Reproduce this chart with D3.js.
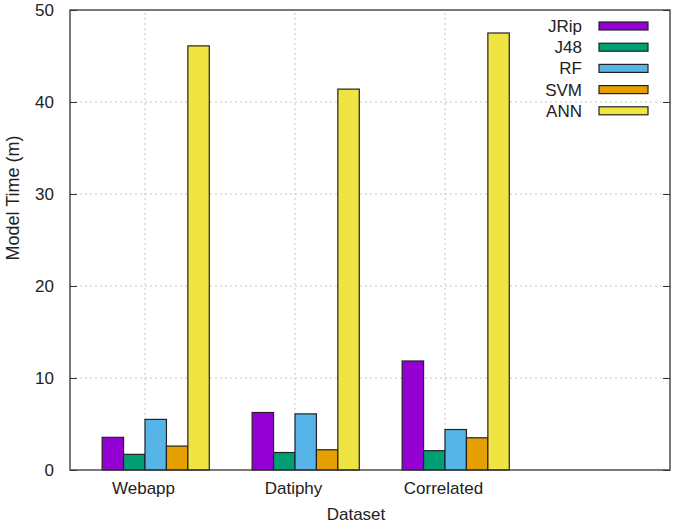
<!DOCTYPE html>
<html>
<head>
<meta charset="utf-8">
<script src="https://cdn.jsdelivr.net/npm/d3@7"></script>
<style>
  body { margin: 0; background: #fff; }
  text { font-family: "Liberation Sans", Arial, sans-serif; fill: #222; }
</style>
</head>
<body>
<div id="chart-area"></div>
<script>
var categories = ["Webapp", "Datiphy", "Correlated"];
var seriesNames = ["JRip", "J48", "RF", "SVM", "ANN"];
var seriesColors = ["#9400d3", "#009e73", "#56b4e9", "#e69f00", "#f0e442"];
var jripValues = [3.55, 6.25, 11.85];
var j48Values = [1.7, 1.9, 2.1];
var rfValues = [5.5, 6.1, 4.4];
var svmValues = [2.6, 2.2, 3.5];
var annValues = [46.1, 41.4, 47.5];
var yTicks = [0, 10, 20, 30, 40, 50];

var allSeries = [jripValues, j48Values, rfValues, svmValues, annValues];

var width = 677;
var height = 527;
var margin = {top: 10, right: 7, bottom: 57, left: 70};
var fontSize = "17px";

var svg = d3.select("#chart-area")
    .append("svg")
        .attr("width", width)
        .attr("height", height);

var x = d3.scaleLinear().domain([-0.5, 3.5]).range([margin.left, width - margin.right]);
var y = d3.scaleLinear().domain([0, 50]).range([height - margin.bottom, margin.top]);

var gap = 2;
var barW = 1 / (seriesNames.length + gap);

// grid
var grid = svg.append("g");
grid.selectAll("line.hg").data(yTicks.slice(1, -1)).enter().append("line")
    .attr("x1", x(-0.5)).attr("x2", x(3.5))
    .attr("y1", (d) => y(d)).attr("y2", (d) => y(d))
    .attr("stroke", "#c4c4c4").attr("stroke-dasharray", "2,3");
grid.selectAll("line.vg").data([0, 1, 2]).enter().append("line")
    .attr("x1", (d) => x(d)).attr("x2", (d) => x(d))
    .attr("y1", y(0)).attr("y2", y(50))
    .attr("stroke", "#c4c4c4").attr("stroke-dasharray", "2,3");

// bars
var rows = [];
allSeries.forEach((vals, j) => {
    vals.forEach((v, i) => {
        rows.push({i: i, j: j, v: v});
    });
});

svg.append("g").selectAll("rect").data(rows).enter().append("rect")
    .attr("x", (d) => x(d.i + (d.j - 2) * barW))
    .attr("y", (d) => y(d.v))
    .attr("width", (d) => x(d.i + (d.j - 1) * barW) - x(d.i + (d.j - 2) * barW))
    .attr("height", (d) => y(0) - y(d.v))
    .attr("fill", (d) => seriesColors[d.j])
    .attr("stroke", "#222")
    .attr("stroke-width", 1.2);

// axes
var yAxisCall = d3.axisLeft(y).tickValues(yTicks).tickSize(-7).tickPadding(16);
var yAxisGroup = svg.append("g")
    .attr("transform", "translate(" + margin.left + ", 0)")
    .call(yAxisCall);
yAxisGroup.select(".domain").remove();
yAxisGroup.selectAll("line").attr("stroke", "#333");
yAxisGroup.selectAll("text").attr("font-size", fontSize).attr("fill", "#222")
    .style("font-family", "Liberation Sans, Arial, sans-serif");

var yRight = svg.append("g")
    .attr("transform", "translate(" + (width - margin.right) + ", 0)")
    .call(d3.axisRight(y).tickValues(yTicks).tickSize(-7).tickFormat(""));
yRight.select(".domain").remove();
yRight.selectAll("line").attr("stroke", "#333");

var xAxisGroup = svg.append("g")
    .attr("transform", "translate(0, " + y(0) + ")")
    .call(d3.axisBottom(x).tickValues([0, 1, 2]).tickFormat((d) => categories[d]).tickSize(0).tickPadding(12));
xAxisGroup.select(".domain").remove();
xAxisGroup.selectAll("text").attr("font-size", fontSize).attr("fill", "#222")
    .attr("dx", "-2px")
    .style("font-family", "Liberation Sans, Arial, sans-serif");

// border
svg.append("rect")
    .attr("x", x(-0.5)).attr("y", y(50))
    .attr("width", x(3.5) - x(-0.5)).attr("height", y(0) - y(50))
    .attr("fill", "none").attr("stroke", "#333").attr("stroke-width", 1.3);

// labels
svg.append("text")
    .attr("x", -198)
    .attr("y", 19)
    .attr("font-size", "18px")
    .attr("text-anchor", "middle")
    .attr("transform", "rotate(-90)")
    .text("Model Time (m)");

svg.append("text")
    .attr("x", 356)
    .attr("y", 520)
    .attr("font-size", fontSize)
    .attr("text-anchor", "middle")
    .text("Dataset");

// legend
var legend = svg.append("g");
var legendItems = legend.selectAll("g").data(seriesNames).enter().append("g")
    .attr("transform", (d, k) => "translate(0, " + (26 + k * 21.2) + ")");
legendItems.append("text")
    .attr("x", 582).attr("y", 6)
    .attr("font-size", fontSize)
    .attr("text-anchor", "end")
    .text((d) => d);
legendItems.append("rect")
    .attr("x", 599).attr("y", -4)
    .attr("width", 49).attr("height", 8)
    .attr("fill", (d, k) => seriesColors[k])
    .attr("stroke", "#222").attr("stroke-width", 1.2);
</script>
</body>
</html>
